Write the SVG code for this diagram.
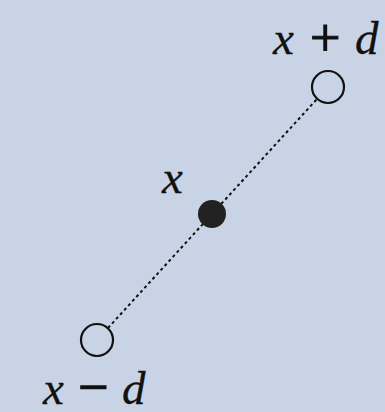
<svg xmlns="http://www.w3.org/2000/svg" width="385" height="412" viewBox="0 0 385 412">
<style>
.v{font-family:"Liberation Serif","Times New Roman",serif;font-style:italic;font-size:47px;fill:#111;stroke:#111;stroke-width:0.3}
.o{font-family:"Liberation Serif","Times New Roman",serif;font-size:54px;fill:#111;stroke:#111;stroke-width:1.2}
.open{fill:none;stroke:#111;stroke-width:2.2}
</style>
<rect width="385" height="412" fill="#c8d3e5"/>
<g id="connectors">
<line x1="108" y1="328" x2="317" y2="99" stroke="#111" stroke-width="2" stroke-dasharray="3 3"/>
</g>
<g id="node-plus">
<circle class="open" cx="328" cy="87" r="16"/>
<text class="v" x="273" y="54">x</text>
<text class="o" x="310" y="56">+</text>
<text class="v" x="355" y="54">d</text>
</g>
<g id="node-x">
<circle cx="212" cy="214" r="14" fill="#222"/>
<text class="v" x="162" y="193">x</text>
</g>
<g id="node-minus">
<circle class="open" cx="97" cy="340" r="16"/>
<text class="v" x="43" y="404">x</text>
<text class="o" x="78" y="405">−</text>
<text class="v" x="122" y="404">d</text>
</g>
</svg>
